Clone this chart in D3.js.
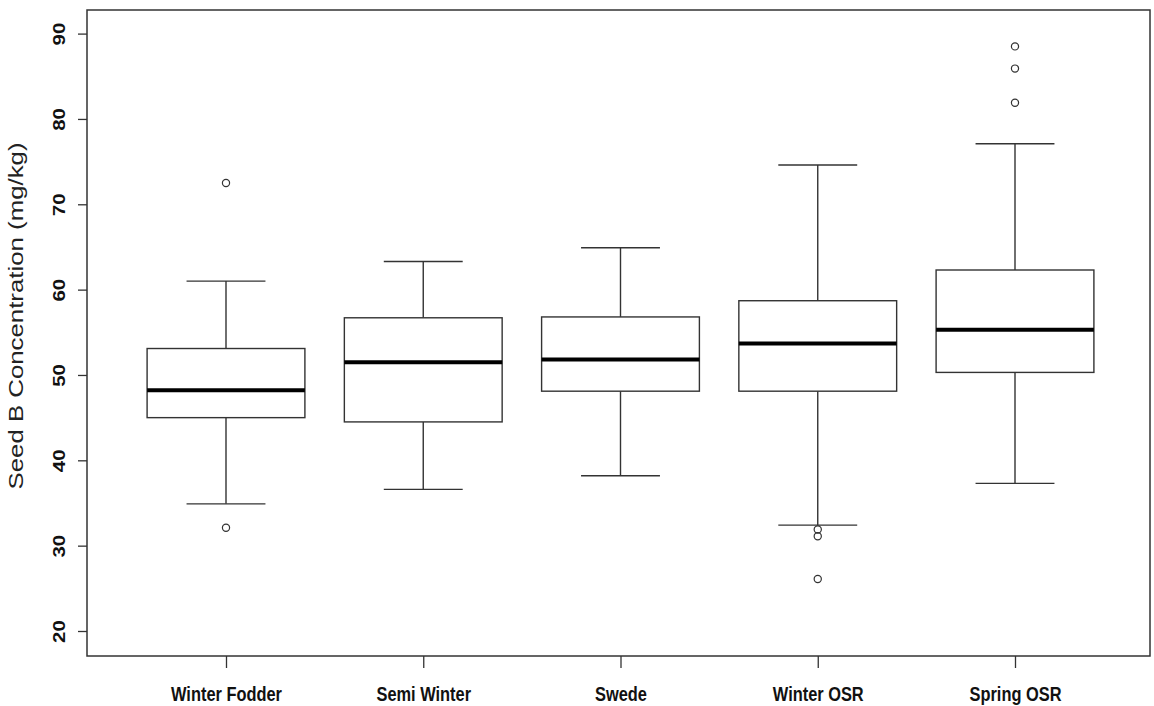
<!DOCTYPE html>
<html>
<head>
<meta charset="utf-8">
<script src="https://cdn.jsdelivr.net/npm/d3@7"></script>
<style>
  html, body { margin: 0; padding: 0; background: #fff; }
  svg { display: block; }
</style>
</head>
<body>
<svg id="chart" width="1154" height="706"></svg>
<script>
// Seed boron concentration by crop type (five-number summaries + outliers)
const categories = ["Winter Fodder", "Semi Winter", "Swede", "Winter OSR", "Spring OSR"];
const lowerWhisker = [34.9, 36.6, 38.2, 32.4, 37.3];
const lowerQuartile = [45.0, 44.5, 48.1, 48.1, 50.3];
const medians      = [48.2, 51.5, 51.8, 53.7, 55.3];
const upperQuartile = [53.1, 56.7, 56.8, 58.7, 62.3];
const upperWhisker = [61.0, 63.3, 64.9, 74.6, 77.1];
const outliers = [
  [72.5, 32.1],
  [],
  [],
  [31.9, 31.1, 26.1],
  [88.5, 85.9, 81.9]
];
const yTicks = [20, 30, 40, 50, 60, 70, 80, 90];
const yTitle = "Seed B Concentration (mg/kg)";

const svg = d3.select("#chart");
const frame = { left: 87, right: 1150, top: 10, bottom: 656 };
const lineColor = "#333";

const x = d3.scalePoint()
  .domain(categories)
  .range([226, 1015]);
const step = x.step();
const boxW = step * 0.8;
const capW = step * 0.4;

const y = d3.scaleLinear()
  .domain([20, 90])
  .range([631, 33.6]);

// plot frame
svg.append("rect")
  .attr("x", frame.left).attr("y", frame.top)
  .attr("width", frame.right - frame.left)
  .attr("height", frame.bottom - frame.top)
  .attr("fill", "none")
  .attr("stroke", lineColor)
  .attr("stroke-width", 1.5);

// y axis
const yAxis = svg.append("g")
  .attr("transform", `translate(${frame.left},0)`)
  .call(d3.axisLeft(y).tickValues(yTicks).tickSize(9).tickFormat(d3.format("d")));
yAxis.select(".domain").remove();
yAxis.selectAll(".tick line").attr("stroke", lineColor).attr("stroke-width", 1.3);
yAxis.selectAll(".tick text")
  .attr("x", 0).attr("y", 0).attr("dy", null)
  .attr("transform", "translate(-22,0) scale(0.8,1) rotate(-90)")
  .attr("text-anchor", "middle")
  .attr("fill", "#111")
  .style("font-family", "Arial, 'Liberation Sans', sans-serif")
  .style("font-weight", "bold")
  .style("font-size", "20.5px");

// x axis
const xAxis = svg.append("g")
  .attr("transform", `translate(0,${frame.bottom})`)
  .call(d3.axisBottom(x).tickSize(12));
xAxis.select(".domain").remove();
xAxis.selectAll(".tick line").attr("stroke", lineColor).attr("stroke-width", 1.3);
xAxis.selectAll(".tick text")
  .attr("y", 0).attr("dy", null)
  .attr("transform", "translate(0,45) scale(0.8,1)")
  .attr("text-anchor", "middle")
  .attr("fill", "#111")
  .style("font-family", "Arial, 'Liberation Sans', sans-serif")
  .style("font-weight", "bold")
  .style("font-size", "20.5px");

// y title
svg.append("text")
  .attr("transform", `translate(23,316) scale(0.8,1) rotate(-90)`)
  .attr("text-anchor", "middle")
  .attr("fill", "#222")
  .style("font-family", "Arial, 'Liberation Sans', sans-serif")
  .style("font-size", "25.8px")
  .text(yTitle);

// boxes
const data = categories.map((c, i) => ({
  cat: c,
  lw: lowerWhisker[i], q1: lowerQuartile[i], med: medians[i],
  q3: upperQuartile[i], uw: upperWhisker[i], out: outliers[i]
}));

const g = svg.append("g");
data.forEach(d => {
  const cx = x(d.cat);
  const gb = g.append("g");
  // whiskers
  gb.append("line").attr("x1", cx).attr("x2", cx).attr("y1", y(d.q3)).attr("y2", y(d.uw));
  gb.append("line").attr("x1", cx).attr("x2", cx).attr("y1", y(d.q1)).attr("y2", y(d.lw));
  gb.append("line").attr("x1", cx - capW / 2).attr("x2", cx + capW / 2).attr("y1", y(d.uw)).attr("y2", y(d.uw));
  gb.append("line").attr("x1", cx - capW / 2).attr("x2", cx + capW / 2).attr("y1", y(d.lw)).attr("y2", y(d.lw));
  // box
  gb.append("rect")
    .attr("x", cx - boxW / 2).attr("y", y(d.q3))
    .attr("width", boxW).attr("height", y(d.q1) - y(d.q3))
    .attr("fill", "#fff");
  gb.selectAll("line, rect").attr("stroke", lineColor).attr("stroke-width", 1.4);
  // median
  gb.append("line")
    .attr("x1", cx - boxW / 2).attr("x2", cx + boxW / 2)
    .attr("y1", y(d.med)).attr("y2", y(d.med))
    .attr("stroke", "#000").attr("stroke-width", 4);
  // outliers
  gb.selectAll("circle").data(d.out).join("circle")
    .attr("cx", cx).attr("cy", v => y(v)).attr("r", 3.6)
    .attr("fill", "none").attr("stroke", lineColor).attr("stroke-width", 1.2);
});
</script>
</body>
</html>
